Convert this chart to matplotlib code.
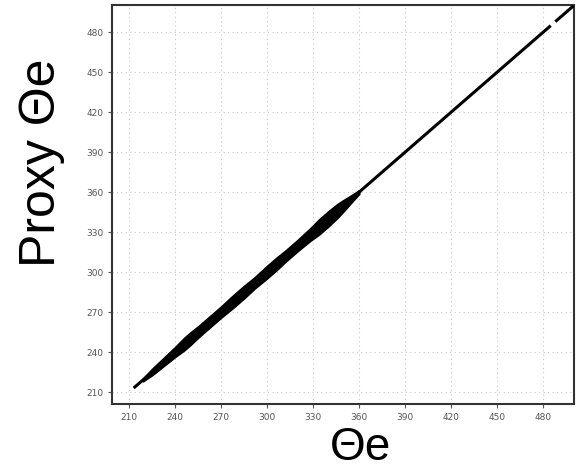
import numpy as np
import matplotlib
matplotlib.use("Agg")
import matplotlib.pyplot as plt

# thin 1:1 line (gap near 486)
line_theta = [213, 485, np.nan, 488, 500]
line_proxy = [213, 485, np.nan, 488, 500]

# dense cloud of points: proxy range at each theta_e
band_theta = [219, 225, 232, 240, 246, 250, 256, 262, 270, 278, 285, 292,
              300, 306, 312, 320, 328, 334, 340, 346, 350, 355, 360]
band_low = [218.2, 222.8, 229.2, 236.5, 241.5, 245.5, 252.0, 258.0, 266.0,
            273.5, 280.5, 288.0, 295.5, 301.5, 308.0, 316.0, 323.5, 328.5,
            334.5, 341.0, 346.0, 352.5, 358.8]
band_high = [219.8, 227.2, 234.8, 243.5, 250.5, 254.5, 260.0, 266.0, 274.0,
             282.5, 289.5, 296.0, 304.5, 310.5, 316.0, 324.0, 332.5, 339.5,
             345.5, 351.0, 354.0, 357.5, 361.2]

ticks = [210, 240, 270, 300, 330, 360, 390, 420, 450, 480]

fig = plt.figure(figsize=(5.79, 4.70), dpi=100)
ax = fig.add_axes([0.1943, 0.1404, 0.7971, 0.8490])

ax.fill_between(band_theta, band_low, band_high, color="black", lw=1.5,
                edgecolor="black", zorder=3)
ax.plot(line_theta, line_proxy, color="black", lw=2.2, solid_capstyle="butt",
        zorder=3)

ax.set_xlim(199.2, 500.2)
ax.set_ylim(201, 500.5)
ax.set_xticks(ticks)
ax.set_yticks(ticks)
ax.tick_params(labelsize=6.5, labelcolor="#555555", color="#555555",
               length=3, width=0.8)
ax.grid(True, linestyle=(0, (1, 3)), color="#c8c8c8", lw=0.8)
ax.set_axisbelow(True)
for s in ax.spines.values():
    s.set_linewidth(1.5)
    s.set_color("#333333")

fig.text(360 / 579, 1 - 448 / 470, "Θe", fontsize=33, family="Liberation Sans",
         ha="center", va="center")
fig.text(42 / 579, 1 - 163 / 470, "Proxy Θe", fontsize=36,
         family="Liberation Sans", rotation=90, ha="center", va="center")

fig.savefig("out.png", dpi=100)
